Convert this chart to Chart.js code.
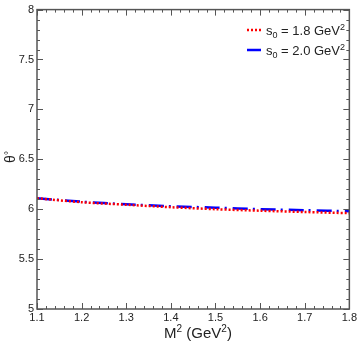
<!DOCTYPE html>
<html><head><meta charset="utf-8">
<script src="https://cdn.jsdelivr.net/npm/chart.js@4/dist/chart.umd.min.js"></script>
<style>html,body{margin:0;padding:0;background:#fff;}canvas{display:block;}</style>
</head><body>
<canvas id="c" width="359" height="343"></canvas>
<script>
const M2 = [1.1, 1.2, 1.3, 1.4, 1.5, 1.6, 1.7, 1.8];
const theta_s18 = [6.11, 6.07, 6.045, 6.02, 6.0, 5.985, 5.972, 5.96];
const theta_s20 = [6.11, 6.075, 6.05, 6.03, 6.015, 6.0, 5.99, 5.98];
const xTicks = [1.1, 1.2, 1.3, 1.4, 1.5, 1.6, 1.7, 1.8];
const yTicks = [5, 5.5, 6, 6.5, 7, 7.5, 8];
const legendLabels = [["s", "0", " = 1.8 GeV", "2"], ["s", "0", " = 2.0 GeV", "2"]];

const FONT = '"Liberation Sans", Arial, sans-serif';
const FRAME = '#555';
const TEXT = '#222';

function rich(ctx, segs, x, y, align) {
  let w = 0;
  segs.forEach(s => { ctx.font = s.size + 'px ' + FONT; w += ctx.measureText(s.t).width; });
  let cx = align === 'center' ? x - w / 2 : (align === 'right' ? x - w : x);
  ctx.textAlign = 'left';
  ctx.textBaseline = 'alphabetic';
  segs.forEach(s => {
    ctx.font = s.size + 'px ' + FONT;
    ctx.fillText(s.t, cx, y + (s.dy || 0));
    cx += ctx.measureText(s.t).width;
  });
}

const framePlugin = {
  id: 'frame',
  afterDraw(chart) {
    const ctx = chart.ctx, a = chart.chartArea;
    const xs = chart.scales.x, ys = chart.scales.y;
    ctx.save();
    ctx.strokeStyle = FRAME;
    ctx.lineWidth = 1.5;
    ctx.strokeRect(a.left, a.top, a.right - a.left, a.bottom - a.top);
    ctx.lineWidth = 1;
    ctx.beginPath();
    for (let i = 0; i <= 35; i++) {
      const v = 1.1 + i * 0.02;
      const px = Math.round(xs.getPixelForValue(v)) + 0.5;
      const len = (i % 5 === 0) ? 6 : 3;
      ctx.moveTo(px, a.bottom); ctx.lineTo(px, a.bottom - len);
      ctx.moveTo(px, a.top); ctx.lineTo(px, a.top + len);
    }
    for (let i = 0; i <= 30; i++) {
      const v = 5 + i * 0.1;
      const py = Math.round(ys.getPixelForValue(v)) + 0.5;
      const len = (i % 5 === 0) ? 6 : 3;
      ctx.moveTo(a.left, py); ctx.lineTo(a.left + len, py);
      ctx.moveTo(a.right, py); ctx.lineTo(a.right - len, py);
    }
    ctx.stroke();

    ctx.fillStyle = TEXT;
    rich(ctx, [{t: 'M', size: 15}, {t: '2', size: 10, dy: -6}, {t: ' (GeV', size: 15}, {t: '2', size: 10, dy: -6}, {t: ')', size: 15}], 198, 338, 'center');
    ctx.save();
    ctx.translate(15, 157);
    ctx.rotate(-Math.PI / 2);
    rich(ctx, [{t: 'θ', size: 14}, {t: '°', size: 10, dy: -3}], 0, 0, 'center');
    ctx.restore();

    const styles = [
      {color: '#ff0000', dash: [2, 2], width: 2.5},
      {color: '#0000ff', dash: [], width: 2.5}
    ];
    const rowsY = [30, 50];
    legendLabels.forEach((lab, i) => {
      const st = styles[i];
      ctx.save();
      ctx.strokeStyle = st.color; ctx.lineWidth = st.width; ctx.setLineDash(st.dash);
      ctx.beginPath(); ctx.moveTo(247, rowsY[i]); ctx.lineTo(261, rowsY[i]); ctx.stroke();
      ctx.restore();
      ctx.fillStyle = TEXT;
      rich(ctx, [{t: lab[0], size: 13}, {t: lab[1], size: 9, dy: 3}, {t: lab[2], size: 13}, {t: lab[3], size: 9, dy: -5}], 266, rowsY[i] + 5, 'left');
    });
    ctx.restore();
  }
};

new Chart(document.getElementById('c'), {
  type: 'line',
  data: {
    datasets: [
      {
        label: 's0 = 1.8 GeV2',
        data: M2.map((x, i) => ({x: x, y: theta_s18[i]})),
        borderColor: '#ff0000', borderWidth: 2.5, borderDash: [2, 2],
        pointRadius: 0, fill: false, tension: 0.3
      },
      {
        label: 's0 = 2.0 GeV2',
        data: M2.map((x, i) => ({x: x, y: theta_s20[i]})),
        borderColor: '#0000ff', borderWidth: 2.5, borderDash: [15, 5, 2, 6],
        pointRadius: 0, fill: false, tension: 0.3
      }
    ]
  },
  options: {
    responsive: false,
    animation: false,
    devicePixelRatio: 1,
    layout: {padding: {top: 5, right: 7, left: 0, bottom: 0}},
    plugins: {legend: {display: false}, tooltip: {enabled: false}},
    scales: {
      x: {
        type: 'linear', min: 1.1, max: 1.8,
        grid: {display: false, drawTicks: false}, border: {display: false},
        afterBuildTicks(s) { s.ticks = xTicks.map(v => ({value: v})); },
        afterFit(s) { s.height = 34; },
        ticks: {
          autoSkip: false, maxRotation: 0, padding: 2, color: TEXT,
          font: {family: FONT, size: 11},
          callback: v => Number(v).toFixed(1)
        }
      },
      y: {
        min: 5, max: 8,
        grid: {display: false, drawTicks: false}, border: {display: false},
        afterBuildTicks(s) { s.ticks = yTicks.map(v => ({value: v})); },
        afterFit(s) { s.width = 37; },
        ticks: {
          padding: 3, color: TEXT,
          font: {family: FONT, size: 11},
          callback: v => (Number(v) % 1 === 0 ? String(v) : Number(v).toFixed(1))
        }
      }
    }
  },
  plugins: [framePlugin]
});
</script>
</body></html>
